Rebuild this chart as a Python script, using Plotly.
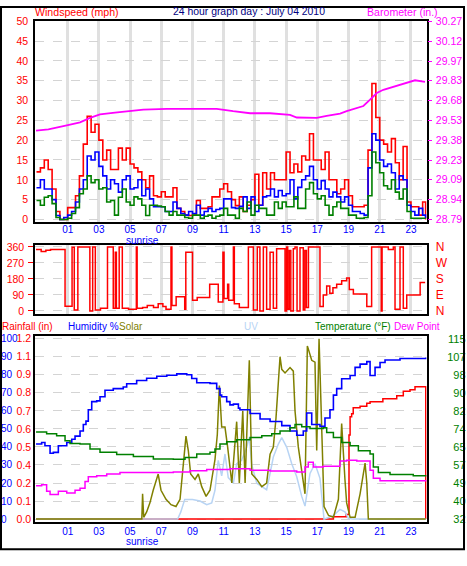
import plotly.graph_objects as go

# ---------------- data ----------------
hour_ticks = [1, 3, 5, 7, 9, 11, 13, 15, 17, 19, 21, 23]
hour_labels = ["01", "03", "05", "07", "09", "11", "13", "15", "17", "19", "21", "23"]

# wind speed, sampled every 15 min from 23:00 of the previous day
wind_hours = [-1.0 + 0.25 * i for i in range(100)] + [23.94]
wind_gust = [12, 13, 15, 12.6, 7.7, 2, 0, 0, 3, 3,
             6, 11, 19, 26, 22, 24, 20, 15, 17.5, 12.6,
             12.6, 18, 15, 18, 14, 13, 12, 10, 8, 11,
             6, 5.7, 7, 5.7, 5.7, 8, 2.8, 2, 1.1, 1,
             1.1, 4.8, 2.8, 2.8, 3.2, 5.7, 5.7, 7.7, 9, 7,
             5, 3.5, 5.7, 2, 3.6, 5, 11.4, 3.6, 11.8, 7.7,
             11.8, 10, 10, 10, 17, 11.8, 14, 12, 16, 15,
             21.6, 15, 15, 12.6, 17, 10, 10, 6.5, 7.7, 10,
             6, 3.2, 3.2, 3.2, 3.6, 17.5, 34.3, 25.7, 20, 19,
             17, 20.4, 14.3, 10, 18.4, 4.4, 3.2, 3.2, 1.1, 4.4,
             0]
wind_avg = [8, 10, 7.7, 7.7, 5, 1, 0, 0.5, 1.1, 2,
            4.4, 7.7, 10, 16, 15, 17, 13.4, 11, 7.7, 10,
            9, 6.9, 10, 11, 7.7, 8, 10, 6, 7.7, 5.2,
            3.2, 3.2, 3.2, 2, 2, 4.4, 2.8, 1.5, 1.1, 2,
            1.5, 3.6, 1.1, 2, 2.8, 2, 2.5, 2.8, 5.2, 5.2,
            3, 2.8, 3.3, 5.7, 2.8, 5.7, 2, 3.6, 5.7, 6,
            7.7, 5.7, 7.3, 6, 6.5, 10, 5.2, 8.1, 10, 11,
            13.4, 10, 7.7, 9.8, 7.7, 5.7, 6.9, 5.7, 4.4, 5.7,
            3.6, 2, 2, 1.5, 1.1, 13, 21.6, 20, 15, 13.4,
            14, 11.8, 7.7, 11, 10, 3.6, 2, 1.1, 2.8, 1.1,
            0.3]
wind_min = [4.8, 3.6, 5.6, 6, 4, 0.5, 0, 0, 0.3, 1.5,
            3, 6.5, 7.7, 11, 9.3, 10, 7.7, 8, 4.4, 4.8,
            1.1, 5.6, 7.7, 4.4, 3.6, 5.7, 5.2, 3.6, 1, 3.6,
            3.6, 3.4, 3.2, 2, 1.1, 2, 1.1, 1.1, 0.5, 0.3,
            1.1, 1.1, 0.3, 0.8, 1.1, 0.3, 0.8, 1.1, 2.8, 1.1,
            1.1, 0.3, 2.8, 2, 4.4, 1.1, 3.6, 2.8, 2.8, 1.1,
            1.1, 4.4, 2.8, 4.4, 3.2, 3.2, 5.7, 2.8, 2.8, 7.7,
            9.3, 6.5, 5.2, 6, 3.6, 1.1, 3.2, 4.4, 2.8, 2.8,
            1.1, 1.1, 0.3, 0.3, 0.5, 6, 17, 14.3, 11.8, 8.5,
            7.7, 10, 6.9, 5.2, 7.7, 2, 0.3, 0.3, 0.3, 0.3,
            0.3]

windspeed_ticks = [0, 5, 10, 15, 20, 25, 30, 35, 40, 45, 50]
baro_ticks = ["28.79", "28.94", "29.09", "29.23", "29.38", "29.53",
              "29.68", "29.83", "29.97", "30.12", "30.27"]
baro_hours = [-1.03, -0.24, 0.94, 1.79, 2.43, 3.07, 4.03, 5.10, 5.85, 7.35,
              8.63, 10.55, 11.6, 12.69, 13.97, 15.25, 15.68, 16.96, 17.6, 18.46,
              18.88, 19.53, 19.95, 20.38, 20.81, 21.23, 22.09, 22.73, 23.26, 23.9]
barometer = [29.453, 29.462, 29.492, 29.515, 29.548, 29.574, 29.588, 29.598, 29.610, 29.616,
             29.616, 29.616, 29.598, 29.583, 29.583, 29.571, 29.551, 29.548, 29.563, 29.580,
             29.598, 29.619, 29.637, 29.684, 29.734, 29.758, 29.788, 29.805, 29.829, 29.817]

dir_ticks = [0, 90, 180, 270, 360]
dir_compass = ["N", "E", "S", "W", "N"]
dir_hours = [-1.03, -0.7, -0.4, -0.1, 0.83, 1.28, 1.42, 1.65, 2.42, 2.6,
             2.77, 3.1, 3.55, 3.92, 4.05, 4.12, 4.3, 4.5, 4.9, 5.4,
             5.45, 5.8, 6.1, 6.5, 6.8, 7.1, 7.3, 7.62, 7.68, 7.95,
             8.5, 8.57, 9.0, 9.3, 10.1, 10.65, 10.95, 11.02, 11.25, 11.32,
             11.62, 11.68, 12.0, 12.58, 12.9, 13.15, 13.32, 13.54, 13.75, 13.97,
             14.18, 14.39, 14.93, 15.03, 15.1, 15.2, 15.3, 15.46, 15.57, 15.7,
             15.89, 16.1, 16.2, 16.3, 16.43, 16.64, 17.17, 17.38, 17.6, 17.8,
             18.0, 18.24, 18.56, 18.88, 19.05, 19.31, 20.06, 20.17, 20.48, 21.1,
             21.15, 21.55, 21.87, 21.98, 22.3, 22.51, 22.73, 23.59, 23.91]
wind_dir = [345, 335, 342, 345, 27, 358, 5, 360, 0, 360,
            5, 15, 360, 15, 330, 15, 360, 15, 10, 360,
            15, 20, 30, 20, 40, 25, 10, 360, 30, 80,
            10, 330, 60, 75, 150, 50, 330, 70, 150, 60,
            360, 40, 20, 360, 5, 360, 0, 360, 10, 330,
            15, 350, 0, 360, 10, 340, 0, 350, 360, 0,
            355, 5, 340, 20, 360, 360, 25, 90, 140, 100,
            130, 150, 170, 185, 120, 95, 95, 25, 360, 0,
            360, 345, 360, 10, 360, 15, 90, 160, 160]

humidity_ticks = [0, 10, 20, 30, 40, 50, 60, 70, 80, 90, 100]
rain_ticks = [0.0, 0.12, 0.24, 0.36, 0.48, 0.6, 0.72, 0.84, 0.96, 1.08, 1.2]
rain_labels = ["0.0", "0.1", "0.2", "0.4", "0.5", "0.6", "0.7", "0.8", "0.9", "1.1", "1.2"]
temp_ticks = [32, 40.3, 48.6, 56.9, 65.2, 73.5, 81.8, 90.1, 98.4, 106.7, 115]
temp_labels = ["32", "40", "49", "57", "65", "74", "82", "90", "98", "107", "115"]

hum_hours = [-1.03, -0.67, -0.46, -0.13, 0.08, 0.4, 0.94, 1.26, 1.47, 1.79,
             2.0, 2.17, 2.32, 2.54, 2.86, 3.07, 3.39, 3.92, 4.56, 4.78,
             5.42, 6.06, 6.71, 7.35, 7.99, 8.63, 8.95, 9.27, 9.69, 10.12,
             10.55, 10.76, 10.87, 11.19, 11.4, 11.62, 11.94, 12.04, 12.69, 13.33,
             13.97, 14.72, 15.25, 15.68, 16.1, 16.32, 16.64, 17.17, 17.49, 17.81,
             18.03, 18.24, 18.56, 19.1, 19.42, 19.74, 20.17, 20.38, 20.7, 21.02,
             21.34, 22.3, 23.95]
humidity = [41.6, 42.5, 40.7, 36.5, 37, 40.7, 42.5, 44.3, 46, 48.8,
            52.4, 54.3, 60.6, 65.1, 65.5, 67.8, 71.4, 72.3, 73.2, 75,
            76.8, 78.1, 79.2, 79.7, 80.5, 80, 77.9, 75.6, 75.6, 75.2,
            72.3, 68.7, 67.8, 65.1, 63.3, 63.7, 61.5, 60.6, 58.5, 55.5,
            54.1, 51.8, 48.8, 46.5, 48.8, 58.8, 52.4, 51.4, 56, 60.6,
            68.7, 72.3, 77.8, 79.6, 84.1, 85.9, 87.3, 79.6, 84.1, 86.8,
            88.2, 89, 89.6]

temp_hours = [-1.03, -0.35, 0.29, 0.83, 1.15, 1.79, 2.43, 3.07, 4.14, 5.21,
              6.49, 7.77, 8.52, 9.27, 10.12, 10.44, 10.76, 11.19, 11.83, 12.69,
              13.44, 14.08, 14.61, 15.25, 15.57, 16.0, 16.53, 17.38, 17.6, 18.03,
              18.56, 19.1, 19.63, 20.38, 20.59, 20.91, 21.66, 23.15, 23.95]
temperature = [72.1, 71.3, 70.3, 68.0, 66.8, 66.5, 64.3, 62.8, 61.7, 60.8,
               59.7, 59.5, 60.3, 62.0, 62.8, 64.3, 66.5, 67.6, 68.5, 69.5,
               70.3, 71.3, 72.5, 74.0, 75.5, 74.5, 73.7, 74.0, 71.8, 69.5,
               67.3, 65.8, 63.5, 62.0, 56.0, 53.4, 52.5, 51.9, 52.3]

dew_hours = [-1.03, -0.67, -0.35, -0.13, 0.4, 0.94, 1.47, 1.79, 2.11, 2.32,
             2.86, 3.5, 4.35, 6.28, 7.77, 8.84, 9.91, 11.4, 12.69, 13.97,
             15.68, 16.21, 16.42, 16.74, 17.38, 18.03, 18.45, 18.88, 19.53, 20.17,
             20.38, 20.59, 21.02, 23.95]
dew_point = [47.3, 47.8, 44.8, 43.3, 44.8, 44.0, 45.3, 46.2, 49.3, 51.5,
             51.9, 52.8, 53.4, 53.4, 53.7, 54.2, 54.8, 55.2, 54.5, 54.1,
             53.7, 56.0, 58.2, 56.0, 56.3, 56.3, 58.7, 59.1, 58.7, 58.7,
             54.5, 50.8, 49.7, 49.3]

# solar radiation and UV: no scale on the chart, given in % of panel height
solar_hours = [-1.03, 5.75, 5.8, 5.87, 6.06, 6.27, 6.48, 6.69, 6.8, 6.98,
               7.3, 7.62, 7.94, 8.2, 8.41, 8.58, 8.73, 8.88, 9.16, 9.37,
               9.59, 9.87, 10.12, 10.44, 10.59, 10.72, 10.87, 11.08, 11.25, 11.52,
               11.83, 12.0, 12.22, 12.37, 12.64, 12.8, 13.12, 13.44, 13.75, 13.97,
               14.18, 14.35, 14.61, 14.72, 14.93, 15.25, 15.46, 15.57, 15.78, 16.0,
               16.21, 16.36, 16.64, 16.85, 16.96, 17.11, 17.28, 17.43, 17.72, 18.03,
               18.35, 18.56, 18.77, 18.88, 19.1, 19.42, 19.74, 20.06, 20.17, 20.27,
               23.95]
solar_pct = [0, 0, 14, 1, 4, 9, 16, 22, 25, 16,
             11, 8, 7, 11, 29, 46, 38, 25, 22, 25,
             18, 12.6, 16, 33, 47, 74, 51, 51, 40, 20,
             54, 20, 60, 20, 88, 25, 22, 18, 20, 36,
             40, 56, 90, 83, 81, 84, 82, 60, 40, 27,
             14, 96, 88, 87, 38, 100, 51, 7, 2, 1,
             11, 53, 22, 9, 1, 1, 14, 31, 20, 0,
             0]
uv_hours = [-1.03, 8.05, 8.25, 8.5, 9.0, 9.48, 9.91, 10.23, 10.44, 10.65,
            10.87, 11.08, 11.29, 11.62, 11.83, 12.15, 12.47, 12.64, 12.8, 13.12,
            13.44, 13.75, 13.97, 14.18, 14.5, 14.72, 15.04, 15.36, 15.68, 16.0,
            16.21, 16.53, 16.85, 17.17, 17.43, 18.03, 18.45, 18.77, 18.99, 19.3,
            23.95]
uv_pct = [0, 0, 4, 10.9, 10.9, 10, 8, 9, 16, 32.6,
          24, 36.1, 23, 19.9, 30.7, 32.6, 39.8, 45.2, 30, 19.9,
          18, 16.3, 25.3, 34.4, 41.6, 45.2, 39.8, 30.7, 23.5, 12.6,
          7.2, 25.3, 30.7, 22.6, 0, 2, 5.4, 4, 0.5, 0,
          0]

rain_hours = [-1.03, 18.03, 18.85, 19.03, 19.1, 19.2, 19.3, 19.74, 20.17, 20.38,
              21.2, 22.09, 22.51, 22.94, 23.26, 23.92, 23.95]
rainfall = [0.0, 0.015, 0.03, 0.56, 0.68, 0.70, 0.74, 0.75, 0.77, 0.78,
            0.80, 0.82, 0.85, 0.86, 0.88, 0.88, 0.0]

# ---------------- styling ----------------
FONT = "Liberation Sans, Arial, sans-serif"
RED, BLUE, GREEN, MAG, OLIVE, UVC, NAVY = ("#ff0000", "#0000ff", "#008000", "#ff00ff",
                                           "#808000", "#b8d4f4", "#000080")
W, H = 467, 566
def py(px):
    return 1 - px / H

XDOM = [35.3 / W, 426.7 / W]
XR = [-1.077, 24.01]
HUM_R = [-1.47, 101.5]

fig = go.Figure()

# panel 1 : wind speed + barometer
fig.add_trace(go.Scatter(x=wind_hours, y=wind_gust, mode="lines", line=dict(color=RED, width=1.6, shape="hv"), xaxis="x", yaxis="y"))
fig.add_trace(go.Scatter(x=wind_hours, y=wind_avg, mode="lines", line=dict(color=BLUE, width=1.6, shape="hv"), xaxis="x", yaxis="y"))
fig.add_trace(go.Scatter(x=wind_hours, y=wind_min, mode="lines", line=dict(color=GREEN, width=1.6, shape="hv"), xaxis="x", yaxis="y"))
fig.add_trace(go.Scatter(x=baro_hours, y=barometer, mode="lines", line=dict(color=MAG, width=1.8), xaxis="x", yaxis="y2"))

# panel 2 : wind direction
fig.add_trace(go.Scatter(x=dir_hours, y=wind_dir, mode="lines", line=dict(color=RED, width=1.5, shape="hv"), xaxis="x2", yaxis="y3"))
fig.add_trace(go.Scatter(x=dir_hours, y=wind_dir, mode="lines", line=dict(color=RED, width=0), opacity=0, xaxis="x2", yaxis="y4", hoverinfo="skip"))

# panel 3
fig.add_trace(go.Scatter(x=uv_hours, y=uv_pct, mode="lines", line=dict(color=UVC, width=1.5), xaxis="x3", yaxis="y6"))
fig.add_trace(go.Scatter(x=solar_hours, y=solar_pct, mode="lines", line=dict(color=OLIVE, width=1.5), xaxis="x3", yaxis="y6"))
fig.add_trace(go.Scatter(x=temp_hours, y=temperature, mode="lines", line=dict(color=GREEN, width=1.5, shape="hv"), xaxis="x3", yaxis="y7"))
fig.add_trace(go.Scatter(x=dew_hours, y=dew_point, mode="lines", line=dict(color=MAG, width=1.5, shape="hv"), xaxis="x3", yaxis="y7"))
fig.add_trace(go.Scatter(x=hum_hours, y=humidity, mode="lines", line=dict(color=BLUE, width=1.6, shape="hv"), xaxis="x3", yaxis="y6"))
fig.add_trace(go.Scatter(x=rain_hours, y=rainfall, mode="lines", line=dict(color=RED, width=1.5, shape="hv"), xaxis="x3", yaxis="y5"))

box = dict(showline=True, linecolor="black", linewidth=2, mirror=True, zeroline=False)
vgrid = dict(showgrid=True, gridcolor="#e0e0e0", gridwidth=3)
hgrid = dict(showgrid=True, gridcolor="#d4d4d4", gridwidth=1, griddash="dash")
tf = lambda c, s=10.5: dict(family=FONT, size=s, color=c)

# windspeed scale and matching barometer scale
w_range = [-0.69, 50.12]
b_range = [28.79 + r * 0.0296 for r in w_range]
d_range = [-14.9, 369.4]
rain_range = [v * 0.012 for v in HUM_R]
temp_range = [32 + v * 0.83 for v in HUM_R]

fig.update_layout(
    width=W, height=H, margin=dict(l=0, r=0, t=0, b=0),
    paper_bgcolor="white", plot_bgcolor="white", showlegend=False,
    font=dict(family=FONT, size=10.5),
    xaxis=dict(domain=XDOM, range=XR, anchor="y", tickvals=hour_ticks, ticktext=hour_labels,
               tickfont=tf(BLUE, 10), ticks="", ticklabelstandoff=-3, **vgrid, **box),
    yaxis=dict(domain=[py(220.5), py(15)], range=w_range, anchor="x", tickvals=windspeed_ticks,
               tickfont=tf(RED), ticks="", ticklabelstandoff=3, **hgrid, **box),
    yaxis2=dict(overlaying="y", side="right", anchor="x", range=b_range,
                tickvals=[float(t) for t in baro_ticks], ticktext=baro_ticks,
                tickfont=tf(MAG), ticks="outside", ticklen=4, tickcolor=MAG, showgrid=False,
                zeroline=False, ticklabelstandoff=2),
    xaxis2=dict(domain=XDOM, range=XR, anchor="y3", tickvals=hour_ticks, showticklabels=False,
                ticks="", **vgrid, **box),
    yaxis3=dict(domain=[py(313.7), py(244)], range=d_range, anchor="x2", tickvals=dir_ticks,
                tickfont=tf(RED), ticks="outside", ticklen=5, tickcolor=RED, ticklabelstandoff=2,
                **hgrid, **box),
    yaxis4=dict(overlaying="y3", side="right", anchor="x2", range=d_range, tickvals=dir_ticks,
                ticktext=dir_compass, tickfont=tf(RED, 12), ticks="", showgrid=False, zeroline=False,
                ticklabelstandoff=8),
    xaxis3=dict(domain=XDOM, range=XR, anchor="y5", tickvals=hour_ticks, ticktext=hour_labels,
                tickfont=tf(BLUE, 10), ticks="", ticklabelstandoff=-1, showgrid=False, **box),
    yaxis5=dict(domain=[py(526), py(336.5)], range=rain_range, anchor="x3", tickvals=rain_ticks,
                ticktext=rain_labels, tickfont=tf(RED), ticks="", **hgrid, **box),
    yaxis6=dict(overlaying="y5", side="right", anchor="free", position=0.0, range=HUM_R,
                tickvals=humidity_ticks, tickfont=tf(BLUE, 10), ticks="", showgrid=False,
                zeroline=False),
    yaxis7=dict(overlaying="y5", side="left", anchor="free", position=0.997, range=temp_range,
                tickvals=temp_ticks, ticktext=temp_labels, tickfont=tf(GREEN, 11), ticks="",
                showgrid=False, zeroline=False),
)

ann = [
    dict(text="Windspeed (mph)", x=33 / W, y=py(6), xanchor="left", font=tf(RED, 10.6)),
    dict(text="24 hour graph day : July 04 2010", x=249 / W, y=py(6), xanchor="center", font=tf(NAVY, 10.4)),
    dict(text="Barometer (in.)", x=440 / W, y=py(6), xanchor="right", font=tf(MAG, 10.6)),
    dict(text="Rainfall (in)", x=0.0, y=py(327), xanchor="left", font=tf(RED, 10)),
    dict(text="Humidity %", x=66 / W, y=py(327), xanchor="left", font=tf(BLUE, 10)),
    dict(text="Solar", x=117 / W, y=py(327), xanchor="left", font=tf(OLIVE, 10)),
    dict(text="UV", x=242 / W, y=py(327), xanchor="left", font=tf(UVC, 10)),
    dict(text="Temperature (°F)", x=313 / W, y=py(327), xanchor="left", font=tf(GREEN, 10)),
    dict(text="Dew Point", x=392 / W, y=py(327), xanchor="left", font=tf(MAG, 10)),
]
for a in ann:
    a.update(xref="paper", yref="paper", yanchor="middle", showarrow=False)
    fig.add_annotation(**a)
for xr, ypx in (("x", 239.5), ("x3", 546.5)):
    fig.add_annotation(text="sunrise", x=5.8, xref=xr, y=py(ypx), yref="paper",
                       xanchor="center", yanchor="middle", showarrow=False, font=tf(BLUE, 10))

fig.add_shape(type="rect", xref="paper", yref="paper", x0=1 / W, x1=464 / W, y0=py(554), y1=py(1),
              line=dict(color="black", width=2), fillcolor="rgba(0,0,0,0)")

fig.write_html("out.html", config={"displayModeBar": False},
               post_script="document.body.style.margin='0';document.body.style.overflow='hidden';")
